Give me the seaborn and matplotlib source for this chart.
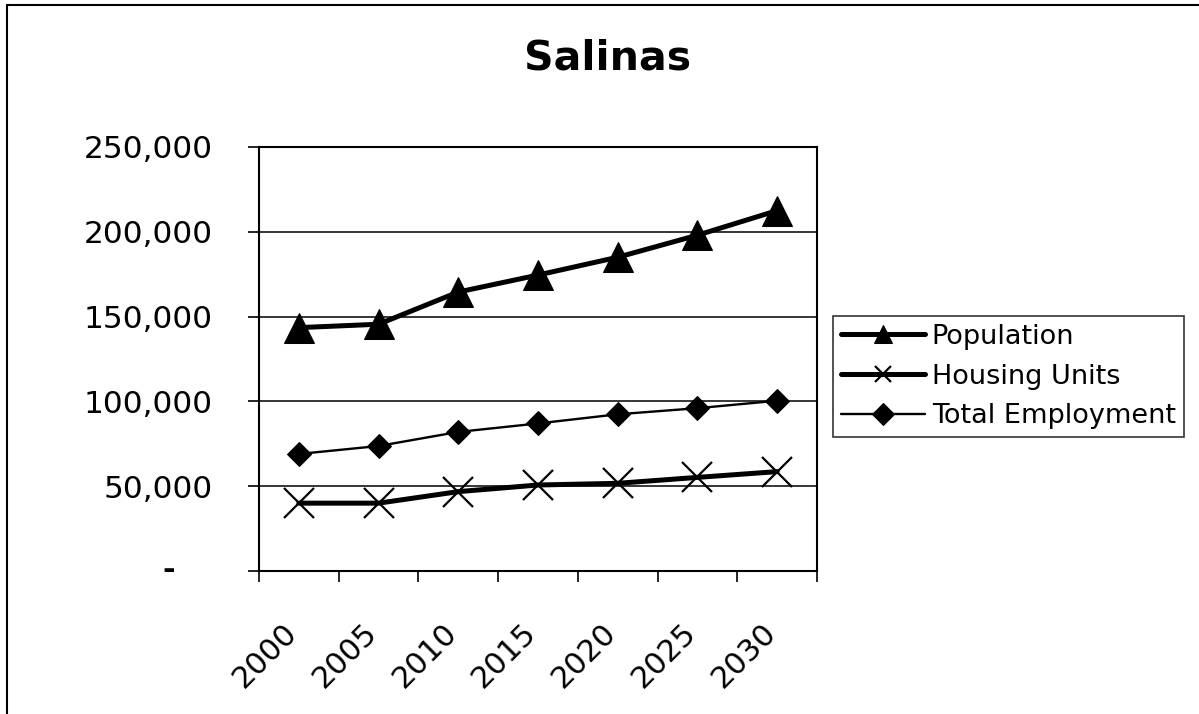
import matplotlib
matplotlib.use("Agg")
import matplotlib.pyplot as plt
import matplotlib.transforms as mtransforms
from matplotlib.lines import Line2D
from matplotlib.ticker import FixedLocator, FuncFormatter, NullFormatter
import seaborn as sns
import pandas as pd

years = ["2000", "2005", "2010", "2015", "2020", "2025", "2030"]
population = [143500, 145500, 164500, 174500, 185000, 198000, 212500]
housing_units = [40000, 40000, 46800, 50700, 51700, 55200, 58600]
total_employment = [69000, 73700, 82000, 87000, 92400, 96000, 100400]
y_ticks = [0, 50000, 100000, 150000, 200000, 250000]

sns.set_theme(style="white")
plt.rcParams["font.family"] = ["DejaVu Sans"]
plt.rcParams["text.color"] = "black"
plt.rcParams["xtick.color"] = "black"
plt.rcParams["ytick.color"] = "black"

pos = list(range(len(years)))
df = pd.DataFrame({"pos": pos, "Population": population,
                   "Housing Units": housing_units,
                   "Total Employment": total_employment})

fig = plt.figure(figsize=(11.99, 7.14), dpi=100)
ax = fig.add_axes([259/1199, 1-571/714, (817-259)/1199, (571-147)/714])

sns.lineplot(data=df, x="pos", y="Population", ax=ax, color="black", lw=3.6,
             marker="^", markersize=21, markeredgecolor="black", label="Population")
sns.lineplot(data=df, x="pos", y="Housing Units", ax=ax, color="black", lw=3.6,
             marker="x", markersize=22, markeredgewidth=1.6, markeredgecolor="black",
             label="Housing Units")
sns.lineplot(data=df, x="pos", y="Total Employment", ax=ax, color="black", lw=1.7,
             marker="D", markersize=12, markeredgecolor="black", label="Total Employment")

ax.set_xlim(-0.5, len(years) - 0.5)
ax.set_ylim(0, 250000)
ax.set_xlabel("")
ax.set_ylabel("")

# y axis
ax.yaxis.set_major_locator(FixedLocator(y_ticks))
ax.yaxis.set_major_formatter(FuncFormatter(lambda v, p: "" if v == 0 else f"{int(v):,}"))
ax.tick_params(axis="y", which="major", direction="out", length=8, width=1.2,
               color="black", labelsize=22.5, labelcolor="black", pad=25, left=True)
ax.text(-0.161, 0, "-", transform=mtransforms.blended_transform_factory(ax.transAxes, ax.transData),
        ha="center", va="center", fontsize=22, fontweight="bold", color="black")
ax.grid(axis="y", color="black", lw=1.1)
ax.set_axisbelow(True)

# x axis: ticks between categories, labels at category centres
ax.xaxis.set_major_locator(FixedLocator([p - 0.5 for p in pos] + [len(years) - 0.5]))
ax.xaxis.set_major_formatter(NullFormatter())
ax.tick_params(axis="x", which="major", direction="out", length=8, width=1.2,
               color="black", bottom=True)
xtrans = mtransforms.blended_transform_factory(ax.transData, ax.transAxes)
for p, yr in zip(pos, years):
    ax.text(p, -0.149, yr, transform=xtrans, rotation=45, rotation_mode="anchor",
            ha="right", va="baseline", fontsize=22, color="black")

for s in ax.spines.values():
    s.set_color("black")
    s.set_linewidth(1.5)

leg = ax.legend(loc="center left", bbox_to_anchor=(833/1199, 1-376.5/714),
                bbox_transform=fig.transFigure, borderaxespad=0, frameon=True,
                fancybox=False, edgecolor="black", fontsize=19.5, handlelength=3.1,
                borderpad=0.3, labelspacing=0.5, handletextpad=0.25)
leg.get_frame().set_linewidth(1.2)
for h, ms in zip(leg.legend_handles, [13, 12, 11]):
    h.set_markersize(ms)

fig.text(608/1199, 1-70/714, "Salinas", ha="center", va="baseline",
         fontsize=29.5, fontweight="bold", color="black")

# partial outer chart border (left and top edges)
fig.add_artist(Line2D([7/1199, 7/1199], [0, 1-5/714], transform=fig.transFigure,
                      color="black", lw=1.5))
fig.add_artist(Line2D([7/1199, 1], [1-5/714, 1-5/714], transform=fig.transFigure,
                      color="black", lw=1.5))

fig.savefig("out.png", dpi=100)
